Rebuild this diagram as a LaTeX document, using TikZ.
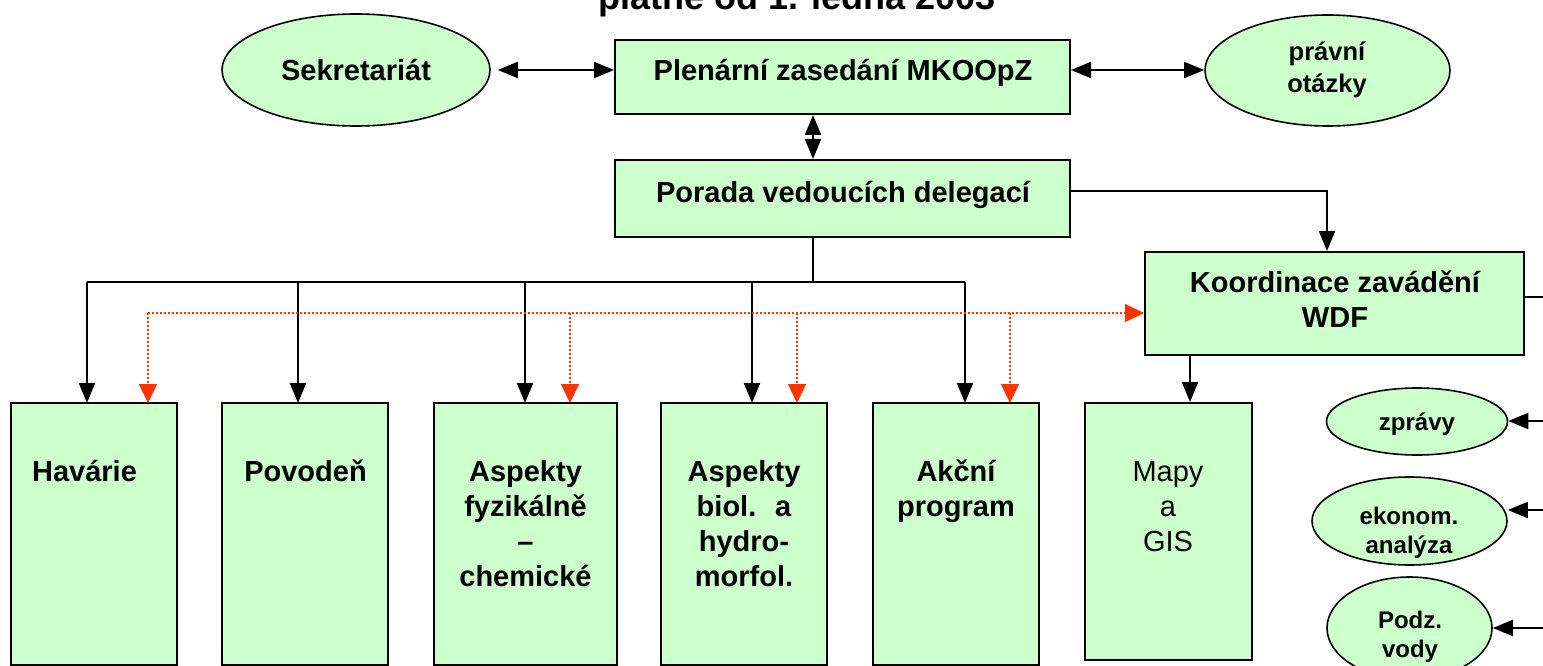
\documentclass[tikz,border=0pt]{standalone}
\usepackage{fontspec}
\setmainfont{Liberation Sans}
\usetikzlibrary{arrows.meta,shapes.geometric}
\definecolor{boxgreen}{HTML}{CCFFCC}
\definecolor{linered}{HTML}{FF3300}
\begin{document}
\begin{tikzpicture}[x=1pt,y=-1pt,
  box/.style={draw=black, line width=2pt, fill=boxgreen, rectangle, inner sep=0pt},
  oval/.style={draw=black, line width=1.6pt, fill=boxgreen, ellipse, inner sep=0pt},
  bigtxt/.style={font=\fontsize{29}{35}\selectfont\bfseries, align=center, inner sep=0pt, anchor=base},
  regtxt/.style={font=\fontsize{29}{35}\selectfont, align=center, inner sep=0pt, anchor=base},
  smalltxt/.style={font=\fontsize{24}{29}\selectfont\bfseries, align=center, inner sep=0pt, anchor=base},
  conn/.style={line width=2pt, draw=black},
  arr/.style={-{Triangle[width=16pt,length=20pt]}},
  darr/.style={{Triangle[width=16pt,length=20pt]}-{Triangle[width=16pt,length=20pt]}},
  redarr/.style={draw=linered, line width=1.5pt, dash pattern=on 2pt off 2pt, -{Triangle[width=18pt,length=19pt,fill=linered,color=linered]}}
]
\useasboundingbox (0,0) rectangle (1543,666);
\clip (0,0) rectangle (1543,666);

% title (cut off at top, as in the reference)
\node[font=\fontsize{36}{40}\selectfont\bfseries, anchor=base, inner sep=0pt] (title) at (797,10) {platné od 1. ledna 2003};

% top row
\node[oval, minimum width=268pt, minimum height=112pt] (sek) at (356,70) {};
\node[box, minimum width=455pt, minimum height=74pt] (plen) at (842.5,77) {};
\node[oval, minimum width=245pt, minimum height=111pt] (pra) at (1327.5,70.5) {};
\node[box, minimum width=455pt, minimum height=77pt] (por) at (842.5,198.5) {};
\node[box, minimum width=379pt, minimum height=103pt] (koo) at (1334.5,303.5) {};

% bottom boxes
\node[box, minimum width=166pt, minimum height=262pt] (hav) at (94,534) {};
\node[box, minimum width=166pt, minimum height=262pt] (pov) at (305,534) {};
\node[box, minimum width=183pt, minimum height=262pt] (fyz) at (525.5,534) {};
\node[box, minimum width=166pt, minimum height=262pt] (bio) at (744,534) {};
\node[box, minimum width=166pt, minimum height=262pt] (akc) at (956,534) {};
\node[box, minimum width=167pt, minimum height=257pt] (map) at (1168.5,531.5) {};

% right ellipses
\node[oval, minimum width=181pt, minimum height=67pt] (zpr) at (1417,421.5) {};
\node[oval, minimum width=195pt, minimum height=88pt] (eko) at (1409.5,521) {};
\node[oval, minimum width=165pt, minimum height=102pt] (pod) at (1409.5,628) {};

% texts (anchor base = baseline of the last line)
\node[bigtxt] (tsek) at (356,81) {Sekretariát};
\node[bigtxt] (tplen) at (843,81) {Plenární zasedání MKOOpZ};
\node[smalltxt, font=\fontsize{25.5}{32}\selectfont\bfseries] (tpra) at (1327,93) {právní\\otázky};
\node[bigtxt] (tpor) at (843,202) {Porada vedoucích delegací};
\node[bigtxt] (tkoo) at (1335,327) {Koordinace zavádění\\WDF};
\node[bigtxt] (thav) at (84.5,481) {Havárie};
\node[bigtxt] (tpov) at (305.5,481) {Povodeň};
\node[bigtxt] (tfyz) at (525.5,586) {Aspekty\\fyzikálně\\–\\chemické};
\node[bigtxt] (tbio) at (744,586) {Aspekty\\biol.~ a\\hydro-\\morfol.};
\node[bigtxt] (takc) at (956,516) {Akční\\program};
\node[regtxt] (tmap) at (1168,551) {Mapy\\a\\GIS};
\node[smalltxt] (tzpr) at (1417,430) {zprávy};
\node[smalltxt] (teko) at (1409,553) {ekonom.\\analýza};
\node[smalltxt] (tpod) at (1410,657) {Podz.\\vody};

% helper coordinates
\coordinate (vx) at (813,0);
\coordinate (j) at (813,282);
\coordinate (a1) at (87,403);
\coordinate (a2) at (298,403);
\coordinate (a3) at (525,403);
\coordinate (a4) at (752,403);
\coordinate (a5) at (965,403);
\coordinate (rr) at (0,313);
\coordinate (r1) at (148,403);
\coordinate (r2) at (570,403);
\coordinate (r3) at (797,403);
\coordinate (r4) at (1010,403);
\coordinate (pk) at (1327,191);
\coordinate (km) at (1190,0);
\coordinate (kr) at (1545,297);
\coordinate (e1) at (1545,421);
\coordinate (e2) at (1545,510);
\coordinate (e3) at (1545,628);

% connectors top
\draw[conn,darr,shorten <=7pt] (sek.east |- 0,70) -- (plen.west |- 0,70);
\draw[conn,darr] (plen.east |- 0,70) -- (pra.west |- 0,70);
\draw[conn,darr] (plen.south -| vx) -- (por.north -| vx);
\draw[conn,arr] (por.east |- pk) -- (pk) -- (koo.north -| pk);

% tree
\draw[conn] (por.south -| j) -- (j);
\draw[conn] (j -| a1) -- (j -| a5);
\foreach \c in {a1,a2,a3,a4,a5} \draw[conn,arr] (j -| \c) -- (\c);

% red dotted
\draw[redarr] (rr -| r1) -- (rr -| koo.west);
\foreach \c in {r1,r2,r3,r4} \draw[redarr] (rr -| \c) -- (\c);

% Koordinace
\draw[conn,arr] (koo.south -| km) -- (map.north -| km);
\draw[conn] (koo.east |- kr) -- (kr);
\draw[conn,arr] (e1) -- (e1 -| zpr.east);
\draw[conn,arr] (e2) -- (e2 -| eko.east);
\draw[conn,arr] (e3) -- (e3 -| pod.east);
\end{tikzpicture}
\end{document}
